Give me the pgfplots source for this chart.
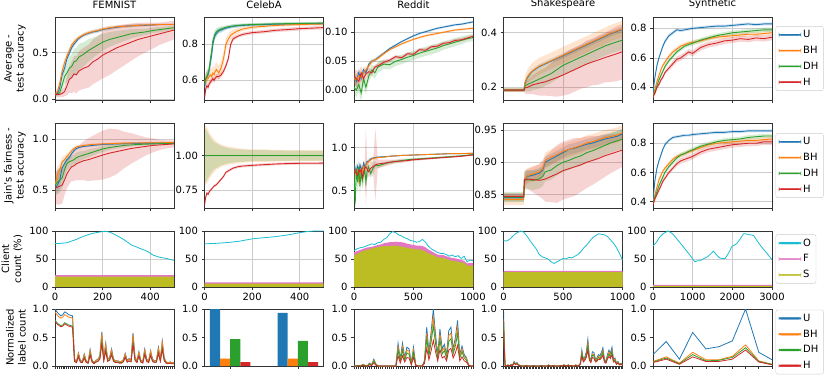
\documentclass[border=0pt]{standalone}
\usepackage{fontspec}
\setmainfont{DejaVu Sans}
\usepackage{pgfplots}
\usepackage{pgfplotstable}
\pgfplotsset{compat=1.18}

\definecolor{cU}{RGB}{31,119,180}
\definecolor{cBH}{RGB}{255,127,14}
\definecolor{cDH}{RGB}{44,160,44}
\definecolor{cH}{RGB}{214,39,40}
\definecolor{cO}{RGB}{23,190,207}
\definecolor{cF}{RGB}{227,119,194}
\definecolor{cS}{RGB}{188,189,34}

\pgfplotsset{
  lw/.style={line width=0.9pt},
  base/.style={
    scale only axis, width=119pt, anchor=north west,
    tick align=outside, tick pos=left,
    axis line style={black!80, line width=0.6pt},
    tick style={black!80, line width=0.6pt},
    major tick length=3pt,
    ylabel style={align=center},
    title style={yshift=-1pt},
    legend style={at={(1.03,0.5)}, anchor=west, draw=black!20, rounded corners=2pt,
      fill=white, row sep=3pt, inner xsep=3pt, inner ysep=2pt},
    legend cell align=left,
  },
  gridon/.style={grid=major, major grid style={gray!40, line width=0.5pt}},
  rowA/.style={base, gridon, height=83pt, xticklabels={}},
  rowB/.style={base, gridon, height=85pt, xticklabels={}},
  rowC/.style={base, gridon, height=56pt, ymin=0, ymax=100, ytick={0,50,100}, yticklabels={0,50,100}},
  rowD/.style={base, height=57pt, ymin=0, ymax=1, ytick={0,0.5,1}, yticklabels={0.0,0.5,1.0}, xticklabels={}},
  colA/.style={xmin=0, xmax=500, xtick={0,200,400}},
  colC/.style={xmin=0, xmax=1000, xtick={0,500,1000}},
  colE/.style={xmin=0, xmax=3000, xtick={0,1000,2000,3000}},
}

% legend image: a thin filled bar of explicit colour and thickness (half-thickness #2)
\newcommand\legimg[2]{\addlegendimage{legend image code/.code={\fill[#1] (0pt,-#2) rectangle (22pt,#2);}}}
\newcommand\fourleg[1]{\legimg{cU}{#1}\legimg{cBH}{#1}\legimg{cDH}{#1}\legimg{cH}{#1}}

% build a closed band polygon table: rows forward (s=1) then backward (s=-1)
\newcommand\mkpoly[2]{%
  \pgfplotstablesort[sort key=x, sort cmp=float >]{\tmprev}{#1}%
  \pgfplotstablecreatecol[create col/set={1}]{s}{#1}%
  \pgfplotstablecreatecol[create col/set={-1}]{s}{\tmprev}%
  \let#2\undefined
  \pgfplotstablevertcat{#2}{#1}%
  \pgfplotstablevertcat{#2}{\tmprev}%
}
\newcommand\bandplot[4]{%
  \addplot[fill=#4, fill opacity=0.2, draw=none, forget plot] table[x=x, y expr=\thisrow{#2}+\thisrow{s}*\thisrow{#3}]{#1};
}
\newcommand\fourlines[2]{%
  \bandplot{#2}{U}{Ue}{cU}
  \bandplot{#2}{BH}{BHe}{cBH}
  \bandplot{#2}{DH}{DHe}{cDH}
  \bandplot{#2}{H}{He}{cH}
  \addplot[cU, lw, forget plot] table[x=x,y=U]{#1};
  \addplot[cBH, lw, forget plot] table[x=x,y=BH]{#1};
  \addplot[cDH, lw, forget plot] table[x=x,y=DH]{#1};
  \addplot[cH, lw, forget plot] table[x=x,y=H]{#1};
}
\newcommand\areas[1]{%
  \addplot[fill=cF, draw=none, forget plot] table[x=x,y=T]{#1} \closedcycle;
  \addplot[fill=cS, draw=none, forget plot] table[x=x,y=S]{#1} \closedcycle;
  \addplot[cO, line width=0.8pt, forget plot] table[x=x,y=O]{#1};
}
\newcommand\labellines[1]{%
  \addplot[cU, line width=0.8pt, forget plot] table[x=x,y=U]{#1};
  \addplot[cBH, line width=0.8pt, forget plot] table[x=x,y=BH]{#1};
  \addplot[cDH, line width=0.8pt, forget plot] table[x=x,y=DH]{#1};
  \addplot[cH, line width=0.8pt, forget plot] table[x=x,y=H]{#1};
}

% ---------------- Row A: average test accuracy ----------------
\pgfplotstableread{
x U Ue BH BHe DH DHe H He
0 0.05 0.02 0.05 0.02 0.05 0.02 0.05 0.03
10 0.06 0.02 0.08 0.03 0.05 0.02 0.05 0.03
20 0.12 0.03 0.17 0.04 0.07 0.03 0.05 0.03
30 0.26 0.04 0.30 0.04 0.15 0.06 0.06 0.04
40 0.33 0.04 0.39 0.04 0.24 0.08 0.08 0.05
50 0.43 0.04 0.46 0.04 0.28 0.10 0.14 0.10
60 0.49 0.03 0.52 0.03 0.33 0.12 0.21 0.14
70 0.55 0.03 0.58 0.03 0.35 0.13 0.23 0.17
80 0.59 0.03 0.61 0.03 0.40 0.14 0.27 0.19
90 0.62 0.02 0.64 0.02 0.41 0.14 0.26 0.20
100 0.65 0.02 0.66 0.02 0.45 0.14 0.30 0.21
120 0.685 0.02 0.69 0.02 0.48 0.13 0.33 0.22
140 0.705 0.02 0.71 0.02 0.52 0.12 0.35 0.23
160 0.72 0.02 0.725 0.02 0.55 0.11 0.40 0.24
180 0.73 0.02 0.735 0.02 0.58 0.10 0.43 0.24
200 0.745 0.02 0.75 0.02 0.61 0.09 0.47 0.25
230 0.76 0.02 0.765 0.02 0.64 0.08 0.51 0.25
260 0.77 0.015 0.775 0.015 0.66 0.07 0.55 0.24
290 0.78 0.015 0.78 0.015 0.68 0.06 0.58 0.22
320 0.785 0.015 0.785 0.015 0.70 0.05 0.61 0.20
350 0.79 0.015 0.79 0.015 0.71 0.04 0.64 0.18
380 0.79 0.01 0.795 0.01 0.72 0.035 0.66 0.16
410 0.795 0.01 0.795 0.01 0.735 0.03 0.68 0.14
440 0.80 0.01 0.80 0.01 0.745 0.03 0.70 0.12
470 0.80 0.01 0.80 0.01 0.755 0.025 0.72 0.11
500 0.80 0.01 0.80 0.01 0.765 0.02 0.74 0.10
}\tAa
\pgfplotstableread{
x U Ue BH BHe DH DHe H He
0 0.56 0.03 0.60 0.03 0.58 0.03 0.50 0.01
5 0.60 0.03 0.59 0.04 0.61 0.03 0.55 0.015
10 0.62 0.03 0.62 0.04 0.62 0.03 0.57 0.015
15 0.63 0.03 0.61 0.04 0.64 0.03 0.56 0.015
20 0.66 0.03 0.62 0.04 0.66 0.03 0.58 0.015
25 0.70 0.03 0.63 0.04 0.72 0.03 0.59 0.015
30 0.74 0.03 0.62 0.04 0.76 0.03 0.60 0.015
35 0.80 0.03 0.64 0.04 0.82 0.03 0.61 0.015
40 0.83 0.025 0.63 0.04 0.84 0.025 0.60 0.015
45 0.85 0.02 0.65 0.04 0.86 0.02 0.61 0.015
50 0.86 0.02 0.66 0.04 0.87 0.02 0.62 0.015
60 0.875 0.015 0.64 0.04 0.88 0.015 0.62 0.015
70 0.88 0.015 0.67 0.04 0.885 0.015 0.63 0.015
80 0.885 0.012 0.72 0.04 0.89 0.012 0.65 0.015
90 0.89 0.01 0.80 0.035 0.895 0.01 0.68 0.015
100 0.893 0.01 0.83 0.03 0.898 0.01 0.72 0.015
110 0.897 0.01 0.85 0.025 0.90 0.01 0.80 0.015
120 0.90 0.01 0.86 0.02 0.902 0.01 0.83 0.012
140 0.903 0.01 0.875 0.015 0.905 0.01 0.845 0.01
160 0.905 0.008 0.885 0.012 0.908 0.008 0.855 0.01
200 0.908 0.008 0.895 0.01 0.91 0.008 0.865 0.01
250 0.91 0.008 0.90 0.008 0.912 0.008 0.87 0.01
300 0.912 0.008 0.905 0.008 0.914 0.008 0.878 0.01
350 0.913 0.008 0.908 0.008 0.915 0.008 0.882 0.01
400 0.914 0.008 0.91 0.008 0.916 0.008 0.887 0.01
450 0.915 0.008 0.912 0.008 0.917 0.008 0.89 0.01
500 0.915 0.008 0.913 0.008 0.918 0.008 0.893 0.01
}\tAb
\pgfplotstableread{
x U Ue BH BHe DH DHe H He
0 0.025 0.01 0.02 0.01 0.005 0.012 0.025 0.012
20 0.015 0.01 0.018 0.01 0.0 0.012 0.02 0.015
40 0.03 0.008 0.025 0.01 0.01 0.012 0.015 0.015
60 0.02 0.008 0.022 0.008 -0.005 0.015 0.03 0.012
80 0.035 0.006 0.03 0.008 0.02 0.012 0.02 0.01
100 0.03 0.005 0.035 0.006 0.005 0.012 0.028 0.008
125 0.045 0.004 0.042 0.005 0.025 0.01 0.032 0.006
150 0.05 0.003 0.05 0.004 0.035 0.01 0.03 0.005
175 0.052 0.003 0.052 0.003 0.03 0.01 0.04 0.004
200 0.056 0.003 0.055 0.003 0.04 0.01 0.042 0.004
250 0.064 0.002 0.063 0.003 0.045 0.008 0.048 0.004
300 0.072 0.002 0.07 0.002 0.044 0.008 0.052 0.003
350 0.078 0.002 0.075 0.002 0.05 0.008 0.058 0.003
400 0.084 0.002 0.08 0.002 0.053 0.008 0.056 0.003
450 0.089 0.002 0.084 0.002 0.057 0.008 0.063 0.003
500 0.094 0.002 0.088 0.002 0.06 0.008 0.062 0.003
550 0.098 0.002 0.091 0.002 0.064 0.008 0.07 0.003
600 0.101 0.002 0.094 0.002 0.067 0.008 0.069 0.003
650 0.104 0.002 0.096 0.002 0.07 0.008 0.075 0.003
700 0.107 0.002 0.098 0.002 0.073 0.008 0.076 0.003
750 0.109 0.002 0.10 0.002 0.077 0.007 0.081 0.003
800 0.111 0.002 0.102 0.002 0.08 0.007 0.082 0.003
850 0.113 0.002 0.104 0.002 0.083 0.007 0.086 0.003
900 0.114 0.002 0.105 0.002 0.086 0.007 0.087 0.003
950 0.116 0.002 0.106 0.002 0.089 0.006 0.09 0.003
1000 0.118 0.002 0.107 0.002 0.091 0.006 0.093 0.003
}\tAc
\pgfplotstableread{
x U Ue BH BHe DH DHe H He
0 0.19 0.004 0.19 0.006 0.19 0.006 0.19 0.006
50 0.19 0.004 0.19 0.006 0.19 0.006 0.19 0.006
100 0.19 0.004 0.19 0.006 0.19 0.006 0.19 0.006
150 0.19 0.004 0.19 0.006 0.19 0.006 0.19 0.006
172 0.19 0.004 0.19 0.006 0.19 0.006 0.19 0.006
180 0.215 0.01 0.218 0.025 0.205 0.02 0.198 0.02
200 0.235 0.01 0.238 0.025 0.21 0.025 0.20 0.025
225 0.25 0.01 0.252 0.028 0.215 0.03 0.205 0.03
250 0.26 0.01 0.262 0.03 0.22 0.03 0.21 0.035
300 0.275 0.01 0.277 0.03 0.23 0.035 0.215 0.045
350 0.285 0.01 0.287 0.03 0.24 0.035 0.22 0.05
400 0.295 0.01 0.297 0.03 0.25 0.035 0.228 0.06
450 0.305 0.01 0.307 0.03 0.265 0.035 0.236 0.07
500 0.315 0.01 0.317 0.03 0.28 0.035 0.245 0.075
550 0.325 0.01 0.327 0.03 0.29 0.035 0.255 0.08
600 0.335 0.01 0.337 0.03 0.30 0.035 0.265 0.08
650 0.345 0.01 0.347 0.03 0.31 0.035 0.275 0.08
700 0.355 0.01 0.357 0.03 0.32 0.035 0.285 0.085
750 0.365 0.01 0.367 0.03 0.33 0.035 0.293 0.085
800 0.375 0.01 0.377 0.03 0.34 0.035 0.30 0.09
850 0.385 0.01 0.387 0.03 0.35 0.035 0.308 0.09
900 0.395 0.01 0.397 0.03 0.358 0.035 0.315 0.095
950 0.403 0.01 0.405 0.03 0.365 0.035 0.322 0.1
1000 0.411 0.01 0.413 0.03 0.372 0.035 0.33 0.1
}\tAd
\pgfplotstableread{
x U Ue BH BHe DH DHe H He
0 0.34 0.01 0.34 0.01 0.34 0.01 0.33 0.01
25 0.42 0.015 0.36 0.01 0.35 0.01 0.35 0.01
50 0.47 0.015 0.39 0.012 0.37 0.012 0.36 0.012
100 0.55 0.015 0.44 0.015 0.41 0.015 0.40 0.015
150 0.60 0.015 0.48 0.015 0.45 0.015 0.42 0.015
200 0.64 0.015 0.52 0.015 0.48 0.015 0.45 0.015
250 0.68 0.015 0.55 0.015 0.51 0.015 0.47 0.015
300 0.71 0.015 0.57 0.015 0.54 0.015 0.50 0.015
400 0.75 0.012 0.61 0.015 0.58 0.015 0.53 0.015
500 0.77 0.012 0.64 0.015 0.61 0.015 0.56 0.02
600 0.79 0.01 0.66 0.015 0.64 0.015 0.59 0.02
700 0.785 0.01 0.68 0.015 0.66 0.015 0.60 0.02
800 0.79 0.01 0.69 0.015 0.68 0.015 0.62 0.02
900 0.795 0.01 0.70 0.015 0.69 0.015 0.64 0.02
1000 0.80 0.01 0.705 0.015 0.70 0.015 0.63 0.02
1200 0.805 0.01 0.715 0.015 0.72 0.015 0.67 0.02
1400 0.81 0.01 0.73 0.015 0.735 0.015 0.69 0.02
1600 0.815 0.01 0.74 0.015 0.75 0.015 0.70 0.02
1800 0.815 0.01 0.745 0.015 0.76 0.015 0.715 0.02
2000 0.82 0.01 0.75 0.015 0.77 0.015 0.72 0.02
2200 0.825 0.01 0.755 0.015 0.775 0.015 0.73 0.02
2400 0.83 0.01 0.76 0.015 0.78 0.015 0.725 0.02
2600 0.825 0.01 0.76 0.015 0.785 0.015 0.735 0.02
2800 0.83 0.01 0.765 0.015 0.79 0.015 0.73 0.02
3000 0.83 0.01 0.77 0.015 0.79 0.015 0.74 0.02
}\tAe

% ---------------- Row B: Jain's fairness ----------------
\pgfplotstableread{
x U Ue BH BHe DH DHe H He
0 0.52 0.05 0.55 0.08 0.55 0.10 0.52 0.15
10 0.55 0.08 0.65 0.08 0.58 0.12 0.53 0.17
20 0.60 0.08 0.70 0.06 0.60 0.12 0.54 0.18
30 0.72 0.06 0.78 0.05 0.62 0.10 0.55 0.18
40 0.76 0.05 0.80 0.04 0.70 0.08 0.60 0.15
50 0.80 0.04 0.83 0.03 0.76 0.06 0.66 0.14
60 0.82 0.03 0.86 0.02 0.78 0.06 0.70 0.14
70 0.86 0.02 0.89 0.02 0.79 0.05 0.73 0.14
80 0.89 0.02 0.91 0.02 0.80 0.05 0.74 0.15
90 0.91 0.015 0.925 0.015 0.82 0.05 0.76 0.16
100 0.92 0.015 0.93 0.015 0.83 0.05 0.77 0.17
120 0.93 0.01 0.94 0.01 0.845 0.04 0.79 0.19
140 0.935 0.01 0.945 0.01 0.86 0.04 0.80 0.21
160 0.94 0.01 0.95 0.01 0.875 0.035 0.815 0.22
180 0.945 0.01 0.952 0.01 0.89 0.03 0.83 0.23
200 0.95 0.01 0.955 0.01 0.905 0.03 0.845 0.24
230 0.952 0.01 0.957 0.01 0.92 0.025 0.865 0.24
260 0.955 0.01 0.96 0.01 0.93 0.02 0.88 0.22
290 0.958 0.01 0.962 0.01 0.94 0.02 0.895 0.18
320 0.96 0.01 0.963 0.01 0.945 0.015 0.91 0.15
350 0.96 0.01 0.964 0.01 0.95 0.015 0.92 0.12
380 0.962 0.01 0.965 0.01 0.952 0.012 0.93 0.09
410 0.963 0.01 0.966 0.01 0.955 0.012 0.94 0.07
440 0.964 0.01 0.966 0.01 0.957 0.01 0.945 0.05
470 0.965 0.01 0.967 0.01 0.958 0.01 0.95 0.04
500 0.965 0.01 0.967 0.01 0.96 0.01 0.955 0.035
}\tBa
\pgfplotstableread{
x U Ue BH BHe DH DHe H He
0 1.0 0.005 1.0 0.22 1.0 0.2 0.64 0.01
5 1.0 0.005 1.0 0.21 1.0 0.19 0.70 0.01
10 1.0 0.005 1.0 0.2 1.0 0.18 0.73 0.01
15 1.0 0.005 1.0 0.19 1.0 0.16 0.72 0.01
20 1.0 0.005 1.0 0.17 1.0 0.15 0.74 0.01
30 1.0 0.005 1.0 0.14 1.0 0.12 0.76 0.01
40 1.0 0.005 1.0 0.12 1.0 0.10 0.78 0.01
50 1.0 0.005 1.0 0.10 1.0 0.09 0.79 0.01
60 1.0 0.005 1.0 0.09 1.0 0.08 0.81 0.01
70 1.0 0.005 1.0 0.08 1.0 0.07 0.83 0.01
80 1.0 0.005 1.0 0.075 1.0 0.065 0.85 0.01
90 1.0 0.005 1.0 0.07 1.0 0.06 0.88 0.01
100 1.0 0.005 1.0 0.065 1.0 0.055 0.89 0.01
120 1.0 0.005 1.0 0.06 1.0 0.05 0.91 0.01
140 1.0 0.005 1.0 0.055 1.0 0.045 0.92 0.01
160 1.0 0.005 1.0 0.05 1.0 0.045 0.925 0.01
200 1.0 0.005 1.0 0.045 1.0 0.04 0.93 0.01
250 1.0 0.005 1.0 0.045 1.0 0.04 0.935 0.01
300 1.0 0.005 1.0 0.042 1.0 0.038 0.94 0.01
350 1.0 0.005 1.0 0.04 1.0 0.037 0.943 0.01
400 1.0 0.005 1.0 0.04 1.0 0.036 0.945 0.01
450 1.0 0.005 1.0 0.04 1.0 0.035 0.945 0.01
500 1.0 0.005 1.0 0.04 1.0 0.035 0.946 0.01
}\tBb
\pgfplotstableread{
x U Ue BH BHe DH DHe H He
0 0.80 0.05 0.75 0.08 0.70 0.10 0.75 0.05
10 0.75 0.05 0.72 0.08 0.35 0.15 0.72 0.05
20 0.72 0.05 0.70 0.08 0.75 0.10 0.70 0.06
30 0.78 0.04 0.74 0.08 0.60 0.12 0.68 0.08
40 0.70 0.04 0.62 0.10 0.78 0.10 0.74 0.05
50 0.80 0.04 0.72 0.08 0.55 0.12 0.72 0.06
60 0.76 0.03 0.70 0.06 0.72 0.08 0.75 0.08
70 0.74 0.03 0.73 0.06 0.62 0.10 0.65 0.10
80 0.82 0.03 0.78 0.05 0.68 0.10 0.72 0.06
90 0.78 0.03 0.75 0.05 0.75 0.10 0.76 0.08
100 0.80 0.02 0.80 0.04 0.60 0.12 0.78 0.45
110 0.84 0.02 0.82 0.03 0.72 0.08 0.75 0.10
120 0.84 0.02 0.83 0.03 0.78 0.05 0.72 0.06
140 0.87 0.015 0.86 0.02 0.70 0.05 0.76 0.08
160 0.88 0.01 0.875 0.015 0.76 0.08 0.78 0.06
180 0.885 0.01 0.88 0.01 0.80 0.04 0.80 0.42
200 0.89 0.01 0.885 0.01 0.79 0.03 0.81 0.05
250 0.895 0.008 0.89 0.008 0.81 0.02 0.82 0.04
300 0.90 0.006 0.90 0.006 0.83 0.02 0.83 0.03
350 0.905 0.005 0.905 0.005 0.84 0.02 0.84 0.02
400 0.91 0.005 0.91 0.005 0.85 0.02 0.845 0.02
450 0.912 0.005 0.912 0.005 0.86 0.015 0.85 0.015
500 0.915 0.005 0.915 0.005 0.865 0.015 0.86 0.015
600 0.92 0.004 0.92 0.004 0.875 0.012 0.87 0.012
700 0.925 0.004 0.925 0.004 0.885 0.01 0.88 0.01
800 0.93 0.004 0.93 0.004 0.895 0.01 0.89 0.01
900 0.93 0.004 0.932 0.004 0.905 0.008 0.90 0.008
1000 0.935 0.004 0.935 0.004 0.92 0.006 0.915 0.006
}\tBc
\pgfplotstableread{
x U Ue BH BHe DH DHe H He
0 0.845 0.006 0.842 0.008 0.846 0.008 0.847 0.005
50 0.845 0.006 0.842 0.008 0.846 0.008 0.847 0.005
100 0.845 0.006 0.842 0.008 0.846 0.008 0.847 0.005
150 0.845 0.006 0.842 0.008 0.846 0.008 0.847 0.005
170 0.845 0.006 0.842 0.008 0.846 0.008 0.847 0.005
176 0.872 0.008 0.873 0.012 0.872 0.015 0.873 0.012
200 0.878 0.008 0.879 0.012 0.873 0.015 0.874 0.015
250 0.88 0.008 0.882 0.012 0.872 0.015 0.873 0.02
300 0.883 0.008 0.885 0.012 0.874 0.015 0.872 0.025
330 0.888 0.008 0.89 0.012 0.878 0.015 0.873 0.03
350 0.90 0.008 0.903 0.012 0.885 0.015 0.874 0.035
400 0.905 0.008 0.908 0.012 0.888 0.015 0.878 0.04
450 0.91 0.008 0.912 0.012 0.895 0.015 0.882 0.045
500 0.915 0.008 0.917 0.012 0.90 0.015 0.887 0.045
550 0.92 0.008 0.92 0.012 0.903 0.015 0.89 0.045
600 0.922 0.008 0.923 0.012 0.907 0.015 0.893 0.045
650 0.925 0.008 0.926 0.012 0.91 0.015 0.896 0.042
700 0.928 0.008 0.93 0.012 0.915 0.015 0.90 0.04
750 0.93 0.008 0.932 0.012 0.918 0.015 0.903 0.038
800 0.933 0.008 0.935 0.012 0.922 0.015 0.906 0.035
850 0.936 0.008 0.938 0.012 0.926 0.015 0.91 0.033
900 0.938 0.008 0.94 0.012 0.93 0.015 0.913 0.03
950 0.94 0.008 0.942 0.012 0.933 0.015 0.916 0.028
1000 0.944 0.008 0.946 0.012 0.936 0.015 0.919 0.026
}\tBd
\pgfplotstableread{
x U Ue BH BHe DH DHe H He
0 0.40 0.01 0.40 0.01 0.40 0.01 0.38 0.01
25 0.48 0.015 0.42 0.012 0.41 0.012 0.40 0.012
50 0.55 0.015 0.45 0.012 0.43 0.012 0.42 0.012
100 0.63 0.015 0.50 0.015 0.47 0.015 0.45 0.015
150 0.68 0.015 0.55 0.015 0.51 0.015 0.48 0.015
200 0.72 0.015 0.58 0.015 0.54 0.015 0.51 0.015
250 0.76 0.012 0.61 0.015 0.57 0.015 0.54 0.015
300 0.79 0.012 0.63 0.015 0.60 0.015 0.56 0.015
400 0.82 0.01 0.66 0.015 0.64 0.015 0.60 0.015
500 0.84 0.01 0.69 0.015 0.67 0.015 0.63 0.015
600 0.845 0.01 0.71 0.015 0.70 0.015 0.66 0.02
700 0.85 0.01 0.72 0.015 0.72 0.015 0.68 0.02
800 0.855 0.01 0.73 0.015 0.73 0.015 0.69 0.02
900 0.855 0.01 0.74 0.015 0.745 0.015 0.70 0.02
1000 0.86 0.01 0.75 0.015 0.755 0.015 0.71 0.02
1200 0.865 0.01 0.77 0.015 0.78 0.015 0.74 0.02
1400 0.87 0.01 0.79 0.015 0.795 0.015 0.76 0.02
1600 0.875 0.01 0.80 0.015 0.81 0.015 0.77 0.02
1800 0.875 0.01 0.805 0.015 0.82 0.015 0.78 0.02
2000 0.88 0.01 0.81 0.015 0.825 0.015 0.79 0.02
2200 0.88 0.01 0.815 0.015 0.83 0.015 0.795 0.02
2400 0.885 0.01 0.82 0.015 0.84 0.015 0.80 0.02
2600 0.885 0.01 0.82 0.015 0.845 0.015 0.80 0.02
2800 0.885 0.01 0.825 0.015 0.85 0.015 0.81 0.02
3000 0.885 0.01 0.83 0.015 0.85 0.015 0.81 0.02
}\tBe

\mkpoly{\tAa}{\pAa}
\mkpoly{\tAb}{\pAb}
\mkpoly{\tAc}{\pAc}
\mkpoly{\tAd}{\pAd}
\mkpoly{\tAe}{\pAe}
\mkpoly{\tBa}{\pBa}
\mkpoly{\tBb}{\pBb}
\mkpoly{\tBc}{\pBc}
\mkpoly{\tBd}{\pBd}
\mkpoly{\tBe}{\pBe}

% ---------------- Row C: client count ----------------
\pgfplotstableread{
x O T S
0 77.5 21.3 18.5
25 78 21.3 18.5
50 79 21.3 18.5
70 82 21.3 18.5
90 85 21.3 18.5
105 88 21.3 18.5
130 92 21.3 18.5
160 96 21.3 18.5
185 98 21.3 18.5
210 99.5 21.3 18.5
230 98 21.3 18.5
250 94 21.3 18.5
272 89 21.3 18.5
295 83 21.3 18.5
321 75 21.3 18.5
340 72 21.3 18.5
356 69 21.3 18.5
375 66 21.3 18.5
391 63 21.3 18.5
412 57 21.3 18.5
440 53 21.3 18.5
468 51 21.3 18.5
496 48 21.3 18.5
500 47.5 21.3 18.5
}\tCa
\pgfplotstableread{
x O T S
0 77 8.3 6
50 78 8.3 6
100 79.5 8.3 6
150 82 8.3 6
200 86 8.3 6
250 88 8.3 6
300 90 8.3 6
350 93 8.3 6
400 97 8.3 6
430 99 8.3 6
460 100 8.3 6
500 100 8.3 6
}\tCb
\pgfplotstableread{
x O T S
0 65 62 56
25 68 64 59
50 70 66 62
75 71 68 64
100 73 70 66
125 75 71 67
150 77 72 69
175 76 73 70
200 79 75 71
225 80 76 72
250 85 78 73
275 88 79 73
300 95 80 73
325 99 80 74
350 97 81 74
375 93 80 73
400 91 80 72
425 88 79 71
450 86 77 70
475 83 76 69
500 82 75 68
525 80 74 67
550 81 74 67
575 85 73 66
600 80 71 63
625 73 67 60
650 68 64 58
675 65 61 56
700 62 58 53
725 60 57 52
750 60 57 52
775 58 55 50
800 55 53 48
825 57 52 47
850 54 51 46
875 56 50 45
900 51 48 44
925 55 47 43
950 45 42 38
975 48 43 38
1000 47 43 38
}\tCc
\pgfplotstableread{
x O T S
0 83 29 26.5
25 82 29 26.5
50 85 29 26.5
75 90 29 26.5
100 95 29 26.5
125 98 29 26.5
145 100 29 26.5
170 98 29 26.5
200 90 29 26.5
225 82 29 26.5
250 75 29 26.5
275 68 29 26.5
300 58 29 26.5
325 54 29 26.5
350 52 29 26.5
375 50 29 26.5
400 45 29 26.5
425 42 29 26.5
450 45 29 26.5
475 48 29 26.5
500 51 29 26.5
525 50 29 26.5
550 53 29 26.5
575 52 29 26.5
600 55 29 26.5
625 58 29 26.5
650 63 29 26.5
675 70 29 26.5
700 75 29 26.5
725 82 29 26.5
750 88 29 26.5
775 92 29 26.5
800 95 29 26.5
825 94 29 26.5
850 93 29 26.5
875 90 29 26.5
900 84 29 26.5
925 78 29 26.5
950 70 29 26.5
975 60 29 26.5
1000 48 29 26.5
}\tCd
\pgfplotstableread{
x O T S
0 73 4 2
85 80 4 2
169 89 4 2
250 95 4 2
380 100 4 2
450 97 4 2
507 94 4 2
600 86 4 2
680 79 4 2
761 72 4 2
850 64 4 2
930 57 4 2
1000 50 4 2
1057 45 4 2
1120 47 4 2
1183 47 4 2
1260 50 4 2
1352 53 4 2
1440 58 4 2
1522 64 4 2
1606 57 4 2
1680 52 4 2
1733 51 4 2
1817 51 4 2
1900 60 4 2
1986 72 4 2
2050 75 4 2
2113 77.5 4 2
2200 86 4 2
2282 95 4 2
2340 95 4 2
2409 93.5 4 2
2470 93 4 2
2536 92 4 2
2620 83 4 2
2705 74.5 4 2
2790 67 4 2
2874 60 4 2
2940 54 4 2
3000 49 4 2
}\tCe

% ---------------- Row D: normalized label count ----------------
\pgfplotstableread{
x U BH DH H
0 1.00 0.95 0.80 0.78
1 0.95 0.90 0.76 0.74
2 0.91 0.86 0.73 0.71
3 0.88 0.84 0.71 0.69
4 0.90 0.86 0.72 0.70
5 0.95 0.90 0.76 0.74
6 0.93 0.88 0.74 0.72
7 0.90 0.86 0.72 0.70
8 0.89 0.85 0.71 0.69
9 0.88 0.84 0.70 0.68
10 0.12 0.11 0.09 0.08
11 0.08 0.08 0.06 0.06
12 0.23 0.22 0.17 0.16
13 0.10 0.09 0.07 0.07
14 0.08 0.08 0.06 0.06
15 0.21 0.20 0.15 0.14
16 0.09 0.09 0.07 0.06
17 0.07 0.07 0.05 0.05
18 0.29 0.27 0.20 0.19
19 0.10 0.09 0.07 0.07
20 0.06 0.06 0.05 0.04
21 0.10 0.10 0.07 0.07
22 0.12 0.11 0.09 0.08
23 0.18 0.17 0.13 0.12
24 0.60 0.57 0.42 0.39
25 0.14 0.13 0.10 0.09
26 0.40 0.38 0.28 0.26
27 0.12 0.11 0.09 0.08
28 0.15 0.14 0.11 0.10
29 0.30 0.28 0.21 0.20
30 0.12 0.11 0.09 0.08
31 0.09 0.09 0.07 0.06
32 0.09 0.09 0.07 0.06
33 0.08 0.08 0.06 0.05
34 0.08 0.08 0.06 0.05
35 0.11 0.10 0.08 0.07
36 0.22 0.21 0.16 0.15
37 0.10 0.09 0.07 0.07
38 0.13 0.12 0.09 0.09
39 0.11 0.10 0.08 0.07
40 0.58 0.55 0.41 0.38
41 0.16 0.15 0.11 0.10
42 0.09 0.09 0.07 0.06
43 0.25 0.24 0.18 0.17
44 0.10 0.09 0.07 0.07
45 0.08 0.08 0.06 0.05
46 0.30 0.28 0.21 0.20
47 0.12 0.11 0.09 0.08
48 0.09 0.09 0.07 0.06
49 0.27 0.26 0.19 0.18
50 0.12 0.11 0.09 0.08
51 0.09 0.09 0.07 0.06
52 0.10 0.09 0.07 0.07
53 0.33 0.31 0.23 0.22
54 0.12 0.11 0.09 0.08
55 0.44 0.42 0.31 0.29
56 0.14 0.13 0.10 0.09
57 0.07 0.07 0.05 0.05
58 0.06 0.06 0.05 0.04
59 0.07 0.07 0.05 0.05
60 0.06 0.06 0.05 0.04
61 0.06 0.06 0.05 0.04
}\tDa
\pgfplotstableread{
x U BH DH H
0 0 0 0 0
1 0 0 0 0
2 0.01 0.01 0.01 0
3 0 0 0 0
4 0.03 0.03 0.02 0.01
5 0.01 0.01 0.01 0
6 0 0 0 0
7 0.05 0.04 0.035 0.02
8 0.02 0.02 0.015 0.01
9 0.12 0.10 0.085 0.055
10 0.03 0.03 0.02 0.01
11 0 0 0 0
12 0 0 0 0
13 0 0 0 0
14 0 0 0 0
15 0 0 0 0
16 0 0 0 0
17 0 0 0 0
18 0 0 0 0
19 0 0 0 0
20 0.40 0.34 0.28 0.18
21 0.12 0.10 0.085 0.055
22 0.40 0.34 0.28 0.18
23 0.15 0.13 0.10 0.07
24 0.33 0.28 0.23 0.15
25 0.30 0.26 0.21 0.14
26 0.05 0.04 0.035 0.02
27 0.33 0.28 0.23 0.15
28 0.02 0.02 0.015 0.01
29 0 0 0 0
30 0 0 0 0
31 0 0 0 0
32 0.10 0.085 0.07 0.045
33 0.68 0.58 0.48 0.31
34 0.25 0.21 0.18 0.11
35 0.60 0.51 0.42 0.27
36 1.00 0.85 0.70 0.45
37 0.55 0.47 0.39 0.25
38 0.20 0.17 0.14 0.09
39 0.65 0.55 0.46 0.29
40 0.30 0.26 0.21 0.14
41 0.38 0.32 0.27 0.17
42 0.20 0.17 0.14 0.09
43 0.62 0.53 0.43 0.28
44 0.68 0.58 0.48 0.31
45 0.30 0.26 0.21 0.14
46 0.50 0.43 0.35 0.23
47 0.80 0.68 0.56 0.36
48 0.20 0.17 0.14 0.09
49 0.35 0.30 0.25 0.16
50 0.20 0.17 0.14 0.09
51 0.15 0.13 0.10 0.07
52 0.02 0.02 0.015 0.01
53 0 0 0 0
54 0 0 0 0
}\tDc
\pgfplotstableread{
x U BH DH H
0 1.00 0.82 0.72 0.62
1 0.02 0.02 0.015 0.01
2 0 0 0 0
3 0.02 0.02 0.015 0.01
4 0 0 0 0
5 0.03 0.025 0.02 0.02
6 0.01 0.01 0.01 0.005
7 0.08 0.07 0.06 0.05
8 0.04 0.035 0.03 0.025
9 0.06 0.05 0.045 0.035
10 0.02 0.02 0.015 0.01
11 0.01 0.01 0.01 0.005
12 0 0 0 0
13 0 0 0 0
14 0 0 0 0
15 0.01 0.01 0.01 0.005
16 0 0 0 0
17 0 0 0 0
18 0 0 0 0
19 0 0 0 0
20 0.01 0.01 0.01 0.005
21 0 0 0 0
22 0 0 0 0
23 0 0 0 0
24 0 0 0 0
25 0.01 0.01 0.01 0.005
26 0 0 0 0
27 0 0 0 0
28 0 0 0 0
29 0 0 0 0
30 0.02 0.02 0.015 0.01
31 0 0 0 0
32 0 0 0 0
33 0.01 0.01 0.01 0.005
34 0 0 0 0
35 0 0 0 0
36 0 0 0 0
37 0 0 0 0
38 0.01 0.01 0.01 0.005
39 0 0 0 0
40 0.02 0.02 0.015 0.01
41 0.01 0.01 0.01 0.005
42 0 0 0 0
43 0.02 0.02 0.015 0.01
44 0 0 0 0
45 0.01 0.01 0.01 0.005
46 0 0 0 0
47 0 0 0 0
48 0.02 0.02 0.015 0.01
49 0 0 0 0
50 0.01 0.01 0.01 0.005
51 0.05 0.04 0.035 0.03
52 0.28 0.24 0.21 0.17
53 0.12 0.10 0.09 0.07
54 0.16 0.14 0.12 0.10
55 0.25 0.21 0.19 0.15
56 0.47 0.40 0.35 0.28
57 0.16 0.14 0.12 0.10
58 0.10 0.09 0.075 0.06
59 0.25 0.21 0.19 0.15
60 0.24 0.20 0.18 0.14
61 0.12 0.10 0.09 0.07
62 0.14 0.12 0.10 0.08
63 0.20 0.17 0.15 0.12
64 0.18 0.15 0.13 0.11
65 0.24 0.20 0.18 0.14
66 0.32 0.27 0.24 0.19
67 0.12 0.10 0.09 0.07
68 0.08 0.07 0.06 0.05
69 0.20 0.17 0.15 0.12
70 0.28 0.24 0.21 0.17
71 0.22 0.19 0.16 0.13
72 0.33 0.28 0.25 0.20
73 0.12 0.10 0.09 0.07
74 0.14 0.12 0.10 0.08
75 0.05 0.04 0.035 0.03
76 0.08 0.07 0.06 0.05
77 0.03 0.025 0.02 0.02
78 0.05 0.04 0.035 0.03
79 0.02 0.02 0.015 0.01
}\tDd
\pgfplotstableread{
x U BH DH H
0 0.20 0.08 0.07 0.06
1 0.43 0.16 0.14 0.12
2 0.12 0.05 0.04 0.03
3 0.59 0.24 0.20 0.16
4 0.30 0.11 0.09 0.08
5 0.34 0.11 0.10 0.08
6 0.44 0.17 0.15 0.12
7 1.00 0.37 0.32 0.28
8 0.24 0.09 0.08 0.07
9 0.11 0.03 0.03 0.02
}\tDe

\begin{document}
\begin{tikzpicture}
\path[use as bounding box] (0pt,0pt) rectangle (830pt,-382pt);

% ===== Row A =====
\begin{axis}[rowA, colA, at={(55pt,-17pt)}, ymin=-0.01, ymax=0.88, ytick={0,0.5}, yticklabels={0.0,0.5},
  title={FEMNIST}, ylabel={Average -\\test accuracy}]
\fourlines{\tAa}{\pAa}
\end{axis}
\begin{axis}[rowA, colA, at={(204.5pt,-17pt)}, ymin=0.49, ymax=0.952, ytick={0.6,0.8}, yticklabels={0.6,0.8},
  title={CelebA}]
\fourlines{\tAb}{\pAb}
\end{axis}
\begin{axis}[rowA, colC, at={(354pt,-17pt)}, ymin=-0.017, ymax=0.1265, ytick={0,0.05,0.1}, yticklabels={0.00,0.05,0.10},
  title={Reddit}]
\fourlines{\tAc}{\pAc}
\end{axis}
\begin{axis}[rowA, colC, at={(503.5pt,-17pt)}, ymin=0.154, ymax=0.456, ytick={0.2,0.4}, yticklabels={0.2,0.4},
  title={Shakespeare}]
\fourlines{\tAd}{\pAd}
\end{axis}
\begin{axis}[rowA, colE, at={(653pt,-17pt)}, ymin=0.314, ymax=0.877, ytick={0.4,0.6,0.8}, yticklabels={0.4,0.6,0.8},
  title={Synthetic}]
\fourleg{0.6pt}
\fourlines{\tAe}{\pAe}
\legend{U,BH,DH,H}
\end{axis}

% ===== Row B =====
\begin{axis}[rowB, colA, at={(55pt,-123pt)}, ymin=0.326, ymax=1.16, ytick={0.5,1}, yticklabels={0.5,1.0},
  ylabel={Jain's fairness -\\test accuracy}]
\fourlines{\tBa}{\pBa}
\end{axis}
\begin{axis}[rowB, colA, at={(204.5pt,-123pt)}, ymin=0.622, ymax=1.236, ytick={0.75,1}, yticklabels={0.75,1.00}]
\fourlines{\tBb}{\pBb}
\end{axis}
\begin{axis}[rowB, colC, at={(354pt,-123pt)}, ymin=0.299, ymax=1.287, ytick={0.5,1}, yticklabels={0.5,1.0}]
\fourlines{\tBc}{\pBc}
\end{axis}
\begin{axis}[rowB, colC, at={(503.5pt,-123pt)}, ymin=0.829, ymax=0.961, ytick={0.85,0.9,0.95}, yticklabels={0.85,0.90,0.95}]
\fourlines{\tBd}{\pBd}
\end{axis}
\begin{axis}[rowB, colE, at={(653pt,-123pt)}, ymin=0.357, ymax=0.939, ytick={0.4,0.6,0.8}, yticklabels={0.4,0.6,0.8}]
\fourleg{0.6pt}
\fourlines{\tBe}{\pBe}
\legend{U,BH,DH,H}
\end{axis}

% ===== Row C =====
\begin{axis}[rowC, colA, at={(55pt,-231pt)}, xticklabels={0,200,400}, ylabel={Client\\count (\%)}]
\areas{\tCa}
\end{axis}
\begin{axis}[rowC, colA, at={(204.5pt,-231pt)}, xticklabels={0,200,400}]
\areas{\tCb}
\end{axis}
\begin{axis}[rowC, colC, at={(354pt,-231pt)}, xticklabels={0,500,1000}]
\areas{\tCc}
\end{axis}
\begin{axis}[rowC, colC, at={(503.5pt,-231pt)}, xticklabels={0,500,1000}]
\areas{\tCd}
\end{axis}
\begin{axis}[rowC, colE, at={(653pt,-231pt)}, xticklabels={0,1000,2000,3000}]
\legimg{cO}{0.9pt}
\legimg{cF}{0.55pt}
\legimg{cS}{0.55pt}
\areas{\tCe}
\legend{O,F,S}
\end{axis}

% ===== Row D =====
\begin{axis}[rowD, at={(55pt,-309pt)}, xmin=0, xmax=61, xtick={0,...,61}, ylabel={Normalized\\label count}]
\labellines{\tDa}
\end{axis}
\begin{axis}[rowD, at={(204.5pt,-309pt)}, xmin=-0.38, xmax=1.38, xtick={0,1}]
\addplot[ybar, bar width=0.15, bar shift=-0.225, fill=cU, draw=none] coordinates {(0,1.0) (1,0.93)};
\addplot[ybar, bar width=0.15, bar shift=-0.075, fill=cBH, draw=none] coordinates {(0,0.13) (1,0.13)};
\addplot[ybar, bar width=0.15, bar shift=0.075, fill=cDH, draw=none] coordinates {(0,0.47) (1,0.44)};
\addplot[ybar, bar width=0.15, bar shift=0.225, fill=cH, draw=none] coordinates {(0,0.07) (1,0.07)};
\end{axis}
\begin{axis}[rowD, at={(354pt,-309pt)}, xmin=0, xmax=54, xtick={0,...,54}]
\labellines{\tDc}
\end{axis}
\begin{axis}[rowD, at={(503.5pt,-309pt)}, xmin=0, xmax=79, xtick={0,...,79}]
\labellines{\tDd}
\end{axis}
\begin{axis}[rowD, at={(653pt,-309pt)}, xmin=0, xmax=9, xtick={0,...,9}, legend style={at={(1.03,0.42)}}]
\fourleg{0.9pt}
\labellines{\tDe}
\legend{U,BH,DH,H}
\end{axis}
\end{tikzpicture}
\end{document}
